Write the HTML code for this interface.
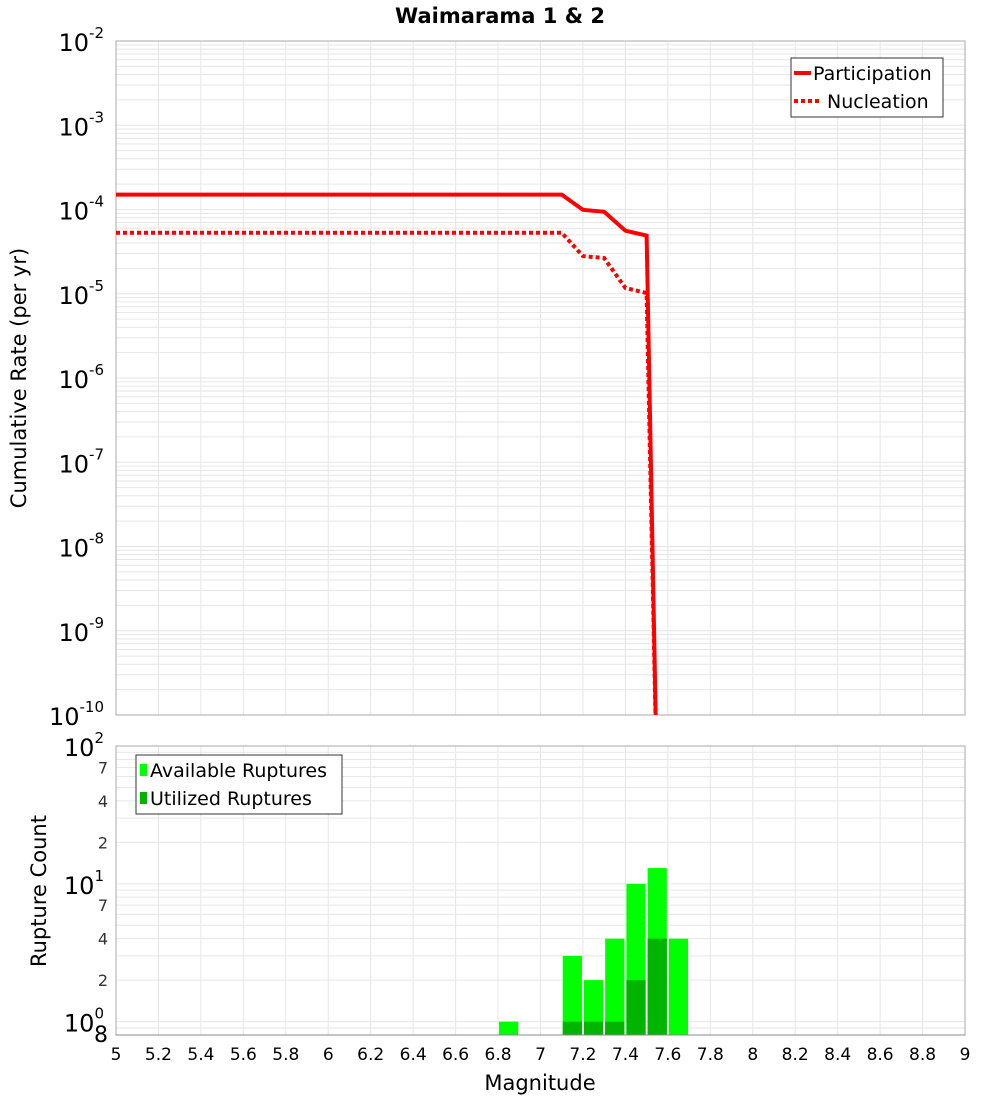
<!DOCTYPE html>
<html><head><meta charset="utf-8"><style>
body{margin:0;background:#fff;font-family:"Liberation Sans","DejaVu Sans",sans-serif}
</style></head><body>
<svg id="c" width="1000" height="1100" xmlns="http://www.w3.org/2000/svg" font-family="DejaVu Sans, Liberation Sans, sans-serif">
<text x="500" y="23" text-anchor="middle" font-size="21" font-weight="bold">Waimarama 1 &amp; 2</text>
<g id="topg"></g>
<g id="botg"></g>
<text transform="translate(26,378) rotate(-90)" text-anchor="middle" font-size="21">Cumulative Rate (per yr)</text>
<text transform="translate(46,891) rotate(-90)" text-anchor="middle" font-size="21">Rupture Count</text>
<text x="540" y="1090" text-anchor="middle" font-size="21">Magnitude</text>
</svg>
<script>
const partMags=[5,7.1,7.2,7.3,7.4,7.5,7.55];
const partRates=[1.5e-4,1.5e-4,9.9e-5,9.4e-5,5.6e-5,4.9e-5,1e-11];
const nuclMags=[5,7.1,7.2,7.3,7.4,7.5,7.55];
const nuclRates=[5.3e-5,5.3e-5,2.8e-5,2.65e-5,1.17e-5,1.02e-5,1e-11];
const binMags=[6.85,7.15,7.25,7.35,7.45,7.55,7.65];
const availCounts=[1,3,2,4,10,13,4];
const usedCounts=[0,1,1,1,2,4,0];
const xTicks=[5,5.2,5.4,5.6,5.8,6,6.2,6.4,6.6,6.8,7,7.2,7.4,7.6,7.8,8,8.2,8.4,8.6,8.8,9];
const rateExps=[-2,-3,-4,-5,-6,-7,-8,-9,-10];

const NS="http://www.w3.org/2000/svg";
const L=116,R=965;
const X=m=>L+(m-5)/4*(R-L);
const T1=41,B1=715;
const Yr=v=>T1+(-2-Math.log10(v))/8*(B1-T1);
const T2=746,B2=1035,lmin=Math.log10(0.8),lmax=2;
const Yc=v=>B2-(Math.log10(v)-lmin)/(lmax-lmin)*(B2-T2);
function mk(p,tag,a,txt){const e=document.createElementNS(NS,tag);for(const k in a)e.setAttribute(k,a[k]);if(txt!=null)e.textContent=txt;p.appendChild(e);return e;}
const topG=document.getElementById('topg'),botG=document.getElementById('botg');

for(let e=-10;e<-2;e++)for(let k=1;k<10;k++){const y=Yr(k*Math.pow(10,e));
 const g=mk(topG,'line',{x1:L,x2:R,y1:y,y2:y,stroke:'#e6e6e6','stroke-width':1});
 
 }
for(const t of xTicks){const x=X(t);
 const g=mk(topG,'line',{x1:x,x2:x,y1:T1,y2:B1,stroke:'#e6e6e6'});
 
 
 const g2=mk(botG,'line',{x1:x,x2:x,y1:T2,y2:B2,stroke:'#e6e6e6'});
 
 }
mk(topG,'rect',{x:L,y:T1,width:R-L,height:B1-T1,fill:'none',stroke:'#aaa'});
for(const e of rateExps){const y=Yr(Math.pow(10,e));
 const t=mk(topG,'text',{x:104,y:y+10,'text-anchor':'end','font-size':24});
 
 
 t.textContent='10';
 mk(t,'tspan',{dy:-13,'font-size':15},String(e));}
const cp=mk(topG,'clipPath',{id:'cl'});mk(cp,'rect',{x:L,y:T1,width:R-L,height:B1-T1});
function line(ms,vs,dash,name){const pts=ms.map((m,i)=>X(m)+','+Yr(vs[i])).join(' ');
 const a={points:pts,fill:'none',stroke:'#ff0000','stroke-width':4,'clip-path':'url(#cl)'};
 if(dash)a['stroke-dasharray']='4,3';
 const p=mk(topG,'polyline',a);
 
 }
line(partMags,partRates,false,'participation-line');
line(nuclMags,nuclRates,true,'nucleation-line');
const lg=mk(topG,'g',{});


mk(lg,'rect',{x:791,y:58,width:152,height:59,fill:'#fff',stroke:'#333'});
mk(lg,'line',{x1:794,x2:811,y1:73,y2:73,stroke:'red','stroke-width':4});
mk(lg,'text',{x:813,y:80,'font-size':19},'Participation');
mk(lg,'line',{x1:794,x2:822,y1:101,y2:101,stroke:'red','stroke-width':4,'stroke-dasharray':'4,3'});
mk(lg,'text',{x:827,y:108,'font-size':19},'Nucleation');

for(let e=-1;e<2;e++)for(let k=1;k<10;k++){const v=k*Math.pow(10,e);if(v<0.8)continue;const y=Yc(v);
 const g=mk(botG,'line',{x1:L,x2:R,y1:y,y2:y,stroke:'#e6e6e6'});
 
 }
binMags.forEach((m,i)=>{const x0=X(m-0.05)+1,w=X(m+0.05)-X(m-0.05)-2;
 const r=mk(botG,'rect',{x:x0,y:Yc(availCounts[i]),width:w,height:B2-Yc(availCounts[i]),fill:'#00ff00'});
 
 
 if(usedCounts[i]>0){const u=mk(botG,'rect',{x:x0,y:Yc(usedCounts[i]),width:w,height:B2-Yc(usedCounts[i]),fill:'#00b400'});
 
 }});
mk(botG,'rect',{x:L,y:T2,width:R-L,height:B2-T2,fill:'none',stroke:'#aaa'});
mk(botG,'line',{x1:L,x2:R,y1:B2,y2:B2,stroke:'#888'});
[[100,'2'],[10,'1'],[1,'0']].forEach(([v,e])=>{const y=Yc(v);
 const t=mk(botG,'text',{x:104,y:y+10,'text-anchor':'end','font-size':24});
 
 
 t.textContent='10';mk(t,'tspan',{dy:-13,'font-size':15},e);});
[70,40,20,7,4,2].forEach(v=>{const t=mk(botG,'text',{x:108,y:Yc(v)+6,'text-anchor':'end','font-size':16,fill:'#333'},String(v).charAt(0));
 
 });
mk(botG,'text',{x:108,y:1042,'text-anchor':'end','font-size':22},'8');
for(const t of xTicks){const s=mk(botG,'text',{x:X(t),y:1060,'text-anchor':'middle','font-size':17},String(t));
 
 }
const lb=mk(botG,'g',{});


mk(lb,'rect',{x:136,y:755,width:206,height:59,fill:'#fff',stroke:'#333'});
mk(lb,'rect',{x:140,y:764,width:7,height:12,fill:'#00ff00'});
mk(lb,'text',{x:150,y:777,'font-size':19},'Available Ruptures');
mk(lb,'rect',{x:140,y:792,width:7,height:12,fill:'#00b400'});
mk(lb,'text',{x:150,y:805,'font-size':19},'Utilized Ruptures');
</script>
</body></html>
